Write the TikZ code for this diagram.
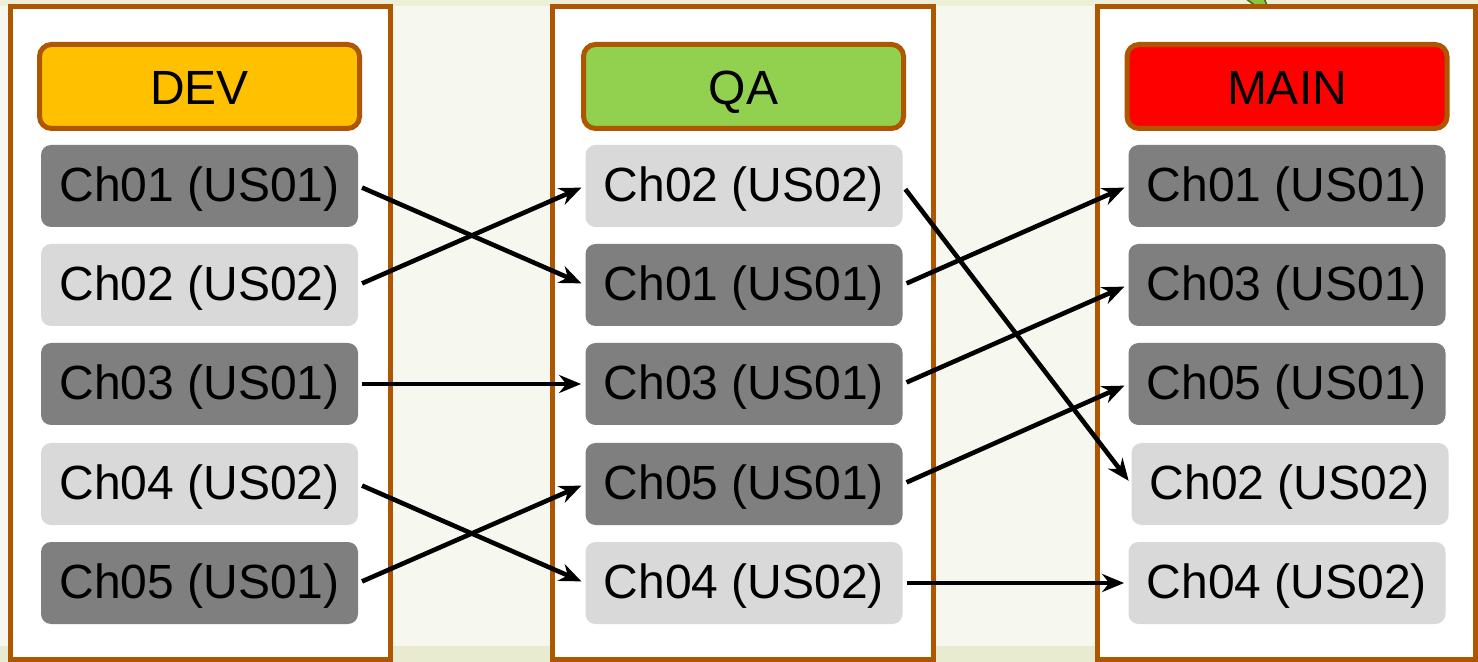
\documentclass[tikz,border=0pt]{standalone}
\usepackage{fontspec}
\setmainfont{Liberation Sans}
\usetikzlibrary{arrows.meta,positioning}
\definecolor{brownb}{HTML}{AE5600}
\definecolor{darkbox}{HTML}{7F7F7F}
\definecolor{lightbox}{HTML}{D9D9D9}
\definecolor{devc}{HTML}{FFC000}
\definecolor{qac}{HTML}{92D050}
\definecolor{mainc}{HTML}{FF0000}
\definecolor{bgtop}{HTML}{F6F7EE}
\definecolor{bgbot}{HTML}{E9EBD0}
\definecolor{leafg}{HTML}{8CC63E}
\definecolor{leafd}{HTML}{4E6A22}
\tikzset{
  column/.style={draw=brownb, line width=2.5pt, fill=white},
  header/.style={draw=brownb, line width=2.5pt, rounded corners=6pt,
    minimum width=160pt, minimum height=42pt, inner sep=0pt,
    text height=17.8pt, text depth=0pt,
    font=\fontsize{24}{28}\selectfont},
  item/.style={rounded corners=5pt, minimum width=158.5pt, minimum height=41pt,
    inner sep=0pt, text height=17.5pt, text depth=2pt,
    font=\fontsize{24}{28}\selectfont},
  dk/.style={item, fill=darkbox},
  lt/.style={item, fill=lightbox},
  flow/.style={line width=2.3pt, -{Stealth[length=11pt,width=9pt]},
    shorten <=2pt, shorten >=2pt},
}
\begin{document}
\begin{tikzpicture}[x=0.5pt,y=-0.5pt]
\useasboundingbox (0,0) rectangle (1478,662);
% background
\fill[bgtop] (0,0) rectangle (1478,662);
\fill[bgbot] (0,646) rectangle (1478,662);
\fill[bgbot!70!bgtop] (0,0) rectangle (1478,6);
% green leaf fragment
\filldraw[fill=leafg, draw=leafd, line width=0.8pt] (1245,-2) -- (1272,18) -- (1264,-2) -- cycle;
% columns
\draw[column] (10,7) rectangle (390,659);
\draw[column] (552,7) rectangle (933,659);
\draw[column] (1097,7) rectangle (1475,659);
% headers
\node[header, fill=devc] (dev) at (199.5,86.5) {DEV};
\node[header, fill=qac] (qa) at (743.5,86.5) {QA};
\node[header, fill=mainc] (main) at (1287,86.5) {MAIN};
% DEV items
\node[dk] (d1) at (199.5,186) {Ch01 (US01)};
\node[lt] (d2) at (199.5,285) {Ch02 (US02)};
\node[dk] (d3) at (199.5,384) {Ch03 (US01)};
\node[lt] (d4) at (199.5,484) {Ch04 (US02)};
\node[dk] (d5) at (199.5,583) {Ch05 (US01)};
% QA items
\node[lt] (q2) at (744,186) {Ch02 (US02)};
\node[dk] (q1) at (744,285) {Ch01 (US01)};
\node[dk] (q3) at (744,384) {Ch03 (US01)};
\node[dk] (q5) at (744,484) {Ch05 (US01)};
\node[lt] (q4) at (744,583) {Ch04 (US02)};
% MAIN items
\node[dk] (m1) at (1287,186) {Ch01 (US01)};
\node[dk] (m3) at (1287,285) {Ch03 (US01)};
\node[dk] (m5) at (1287,384) {Ch05 (US01)};
\node[lt] (m2) at (1290,484) {Ch02 (US02)};
\node[lt] (m4) at (1287,583) {Ch04 (US02)};
% connectors DEV -> QA
\draw[flow] (d1.east) -- (q1.west);
\draw[flow] (d2.east) -- (q2.west);
\draw[flow] (d3.east) -- (q3.west);
\draw[flow] (d4.east) -- (q4.west);
\draw[flow] (d5.east) -- (q5.west);
% connectors QA -> MAIN
\draw[flow] (q2.east) -- (m2.west);
\draw[flow] (q1.east) -- (m1.west);
\draw[flow] (q3.east) -- (m3.west);
\draw[flow] (q5.east) -- (m5.west);
\draw[flow] (q4.east) -- (m4.west);
\end{tikzpicture}
\end{document}
